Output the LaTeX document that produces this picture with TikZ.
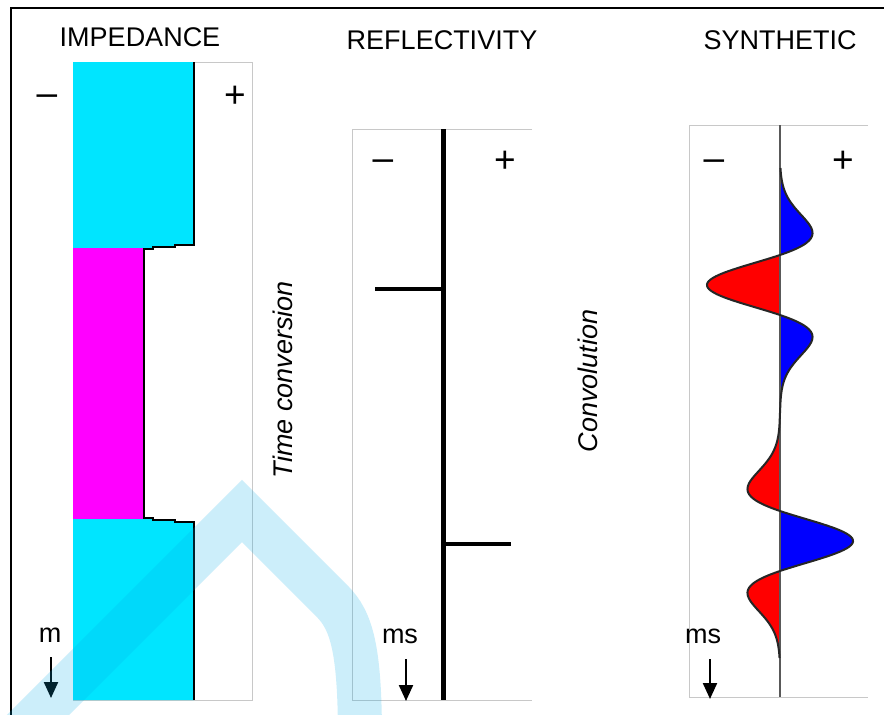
\documentclass[tikz,border=0pt]{standalone}
\usepackage{fontspec}
\setmainfont{Liberation Sans}
\usetikzlibrary{arrows.meta}
\definecolor{cyanfill}{RGB}{0,229,255}
\definecolor{magfill}{RGB}{255,0,255}
\definecolor{panelgray}{RGB}{200,200,200}
\definecolor{wmark}{RGB}{0,170,230}
\definecolor{redfill}{RGB}{255,0,0}
\definecolor{bluefill}{RGB}{0,0,255}
\tikzset{
  lbl/.style={font=\fontsize{27}{29}\selectfont, inner sep=0pt},
  sign/.style={font=\fontsize{37}{39}\selectfont, inner sep=0pt},
  sidelbl/.style={font=\fontsize{27}{29}\selectfont\itshape, inner sep=0pt, rotate=90},
  panel/.style={draw=panelgray, line width=1pt},
  downarrow/.style={line width=2.2pt, -{Triangle[width=14pt,length=16pt]}},
  declare function={uu(\t)=min((0.02357*\t)^2,20); rk(\t)=(1-2*uu(\t))*exp(-uu(\t));}
}
\begin{document}
\begin{tikzpicture}[x=1pt,y=-1pt]
\useasboundingbox (0,0) rectangle (884,715);
\clip (0,0) rectangle (884,715);
\fill[white] (0,0) rectangle (884,715);
% outer frame
\draw[line width=2pt] (11,730) -- (11,8) -- (900,8);

% ---------- IMPEDANCE ----------
\draw[panel] (73,62) rectangle (252,700);
\fill[cyanfill] (73,62) -- (194,62) -- (194,245) -- (175,245) -- (175,247) -- (153,247) -- (153,248) -- (73,248) -- cycle;
\fill[magfill] (73,248) -- (144,248) -- (144,519) -- (73,519) -- cycle;
\fill[cyanfill] (73,519) -- (153,519) -- (153,520) -- (175,520) -- (175,522) -- (194,522) -- (194,700) -- (73,700) -- cycle;
\draw[line width=2pt, line join=miter] (194,62) -- (194,245) -- (175,245) -- (175,247) -- (153,247) -- (153,249) -- (144,249) -- (144,518) -- (153,518) -- (153,520) -- (175,520) -- (175,522) -- (194,522) -- (194,700);
\node[lbl] (impt) at (140,37) {IMPEDANCE};
\node[sign] (impm) at (47,100) {–};
\node[sign] (impp) at (235,97) {+};
\node[lbl] (impu) at (50,635) {m};
\coordinate (ima) at (51,657);
\coordinate (imb) at (51,698);
\draw[downarrow] (ima) -- (imb);

\node[sidelbl] (tconv) at (283,380) {Time conversion};

% ---------- REFLECTIVITY ----------
\draw[panel] (532,129) -- (352,129) -- (352,700) -- (532,700);
\coordinate (rtop) at (443,129);
\coordinate (rbot) at (443,700);
\draw[line width=5pt] (rtop) -- (rbot);
\coordinate (s1a) at (375,289);
\coordinate (s1b) at (443,289);
\coordinate (s2a) at (443,544);
\coordinate (s2b) at (511,544);
\draw[line width=4pt] (s1a) -- (s1b);
\draw[line width=4pt] (s2a) -- (s2b);
\node[lbl] (reft) at (442,40) {REFLECTIVITY};
\node[sign] (refm) at (383,165) {–};
\node[sign] (refp) at (505,162) {+};
\node[lbl] (refu) at (400,636) {ms};
\coordinate (rfa) at (406,659);
\coordinate (rfb) at (406,701);
\draw[downarrow] (rfa) -- (rfb);

\node[sidelbl] (conv) at (588,381) {Convolution};

% ---------- SYNTHETIC ----------
\draw[panel] (868,125) -- (689,125) -- (689,697) -- (868,697);
\begin{scope}
  \clip (780,100) rectangle (900,720);
  \fill[bluefill] plot[domain=168:658, samples=300, variable=\y] ({780+73*(rk(\y-541)-rk(\y-285))},{\y}) -- cycle;
\end{scope}
\begin{scope}
  \clip (600,100) rectangle (780,720);
  \fill[redfill] plot[domain=168:658, samples=300, variable=\y] ({780+73*(rk(\y-541)-rk(\y-285))},{\y}) -- cycle;
\end{scope}
\coordinate (stop) at (780,125);
\coordinate (sbot) at (780,697);
\draw[gray!70!black, line width=1.6pt] (stop) -- (sbot);
\draw[black!85, line width=2pt, smooth] plot[domain=168:658, samples=300, variable=\y] ({780+73*(rk(\y-541)-rk(\y-285))},{\y});
\node[lbl] (synt) at (780,40) {SYNTHETIC};
\node[sign] (synm) at (714,165) {–};
\node[sign] (synp) at (843,162) {+};
\node[lbl] (synu) at (703,636) {ms};
\coordinate (sya) at (710,659);
\coordinate (syb) at (710,699);
\draw[downarrow] (sya) -- (syb);

% ---------- watermark ----------
\draw[wmark, opacity=0.2, line width=44pt, line join=miter, miter limit=10]
  (-20,773) -- (242,511) -- (332,601) .. controls (352,621) and (360,650) .. (360,740);
\end{tikzpicture}
\end{document}
